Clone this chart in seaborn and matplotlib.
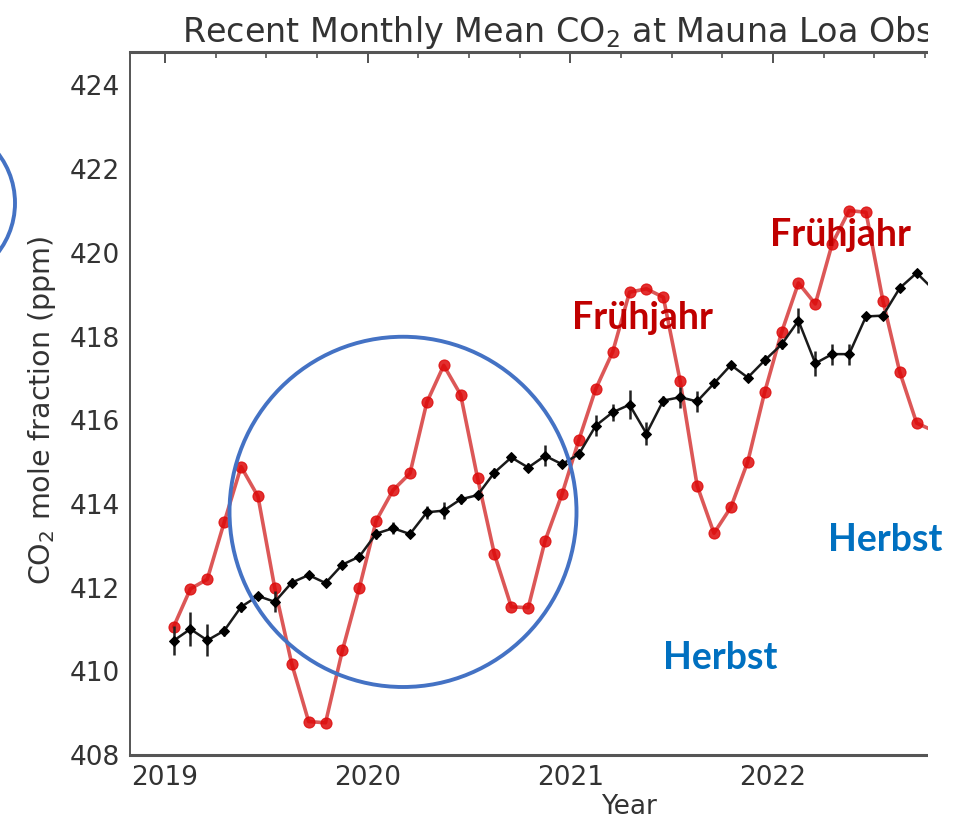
import numpy as np
import pandas as pd
import matplotlib
matplotlib.use("Agg")
import matplotlib.pyplot as plt
from matplotlib.patches import Ellipse, Rectangle
from matplotlib.ticker import MultipleLocator
import seaborn as sns

# monthly values Jan 2019 .. Oct 2022
years = [2019] * 12 + [2020] * 12 + [2021] * 12 + [2022] * 10
months = list(range(1, 13)) * 3 + list(range(1, 11))

monthly_mean = [
    411.06, 411.97, 412.20, 413.56, 414.89, 414.18, 411.98, 410.18, 408.80, 408.77, 410.50, 411.99,
    413.60, 414.33, 414.73, 416.43, 417.31, 416.61, 414.62, 412.80, 411.54, 411.52, 413.12, 414.23,
    415.53, 416.75, 417.63, 419.06, 419.14, 418.94, 416.93, 414.44, 413.30, 413.92, 415.01, 416.67,
    418.10, 419.28, 418.78, 420.22, 421.01, 420.97, 418.86, 417.15, 415.93, 415.75,
]
deseasonalized = [
    410.73, 411.01, 410.74, 410.97, 411.54, 411.80, 411.66, 412.12, 412.30, 412.11, 412.55, 412.74,
    413.29, 413.42, 413.28, 413.80, 413.84, 414.11, 414.21, 414.75, 415.11, 414.87, 415.15, 414.95,
    415.19, 415.87, 416.19, 416.37, 415.68, 416.47, 416.55, 416.45, 416.88, 417.32, 417.02, 417.43,
    417.81, 418.38, 417.36, 417.58, 417.58, 418.48, 418.50, 419.16, 419.52, 419.12,
]
uncertainty = [
    0.35, 0.40, 0.38, 0.12, 0.12, 0.10, 0.25, 0.10, 0.10, 0.10, 0.10, 0.10,
    0.12, 0.15, 0.10, 0.15, 0.20, 0.12, 0.10, 0.12, 0.10, 0.10, 0.25, 0.10,
    0.12, 0.25, 0.20, 0.35, 0.28, 0.12, 0.25, 0.25, 0.10, 0.10, 0.10, 0.12,
    0.10, 0.30, 0.30, 0.25, 0.25, 0.10, 0.10, 0.10, 0.10, 0.10,
]
year_ticks = [2019, 2020, 2021, 2022]

df = pd.DataFrame({"year": years, "month": months,
                   "mean": monthly_mean, "trend": deseasonalized, "err": uncertainty})
df["decimal"] = df["year"] + (df["month"] - 0.5) / 12

W, H = 958, 821
sns.set_style("white")
plt.rcParams["font.family"] = ["DejaVu Sans"]
fig = plt.figure(figsize=(W / 100, H / 100), dpi=100)
ax = fig.add_axes([130 / W, 66 / H, (1128 - 130) / W, (755 - 52) / H])

RED_LINE = "#d63a3a"
RED_DOT = "#dd0a0a"
sns.lineplot(data=df, x="decimal", y="mean", ax=ax, color=RED_LINE, lw=2.6, alpha=0.85,
             marker="o", markersize=8, markerfacecolor=RED_DOT, markeredgecolor=RED_DOT, zorder=3)
ax.errorbar(df["decimal"], df["trend"], yerr=df["err"], fmt="none", ecolor="#222222",
            elinewidth=1.8, zorder=4)
sns.lineplot(data=df, x="decimal", y="trend", ax=ax, color="#1a1a1a", lw=1.8,
             marker="D", markersize=5.5, markerfacecolor="black", markeredgecolor="black", zorder=5)

ax.set_xlim(2018.827, 2023.751)
ax.set_ylim(408, 424.8)
ax.set_xticks(year_ticks)
ax.xaxis.set_minor_locator(MultipleLocator(0.25))
ax.yaxis.set_major_locator(MultipleLocator(2))
ax.yaxis.set_minor_locator(MultipleLocator(0.5))
ax.tick_params(which="both", direction="in", top=True, right=True, colors="#444444",
               labelcolor="#333333")
ax.tick_params(which="major", length=8, width=1.3, labelsize=19, pad=7)
ax.tick_params(which="minor", length=4, width=1.1)
for side, sp in ax.spines.items():
    sp.set_color("#555555")
    sp.set_linewidth(2.2 if side in ("top", "bottom") else 1.4)

ax.set_title("Recent Monthly Mean CO$_2$ at Mauna Loa Observatory", fontsize=24,
             color="#333333", pad=7)
ax.set_xlabel("Year", fontsize=19, color="#333333", labelpad=2)
ax.set_ylabel("CO$_2$ mole fraction (ppm)", fontsize=20.5, color="#333333")
ax.yaxis.set_label_coords(-0.072, 0.49)

# blue circle drawn over the chart
ax.add_patch(Ellipse((2020.174, 413.81), 1.712, 8.37, fill=False,
                     edgecolor="#4472c4", lw=2.8, zorder=6))

# the screenshot is cut off at the right
fig.add_artist(Rectangle((928 / W, 0), 1, 1, transform=fig.transFigure,
                         facecolor="white", edgecolor="none", zorder=10))
# piece of a circle from the neighbouring picture
fig.add_artist(Ellipse((-66 / W, 1 - 203 / H), 162 / W, 162 / H, transform=fig.transFigure,
                       fill=False, edgecolor="#4472c4", lw=2.8, zorder=11))

labels = [("Frühjahr", 572, 329, "#c00000"), ("Frühjahr", 770, 246, "#c00000"),
          ("Herbst", 663, 669, "#0070c0"), ("Herbst", 828, 551, "#0070c0")]
for txt, x, y, col in labels:
    fig.text(x / W, 1 - y / H, txt, ha="left", va="baseline", color=col,
             fontsize=27, fontweight="bold", family=["Lato", "DejaVu Sans"], zorder=20)

fig.savefig("out.png", dpi=100)
